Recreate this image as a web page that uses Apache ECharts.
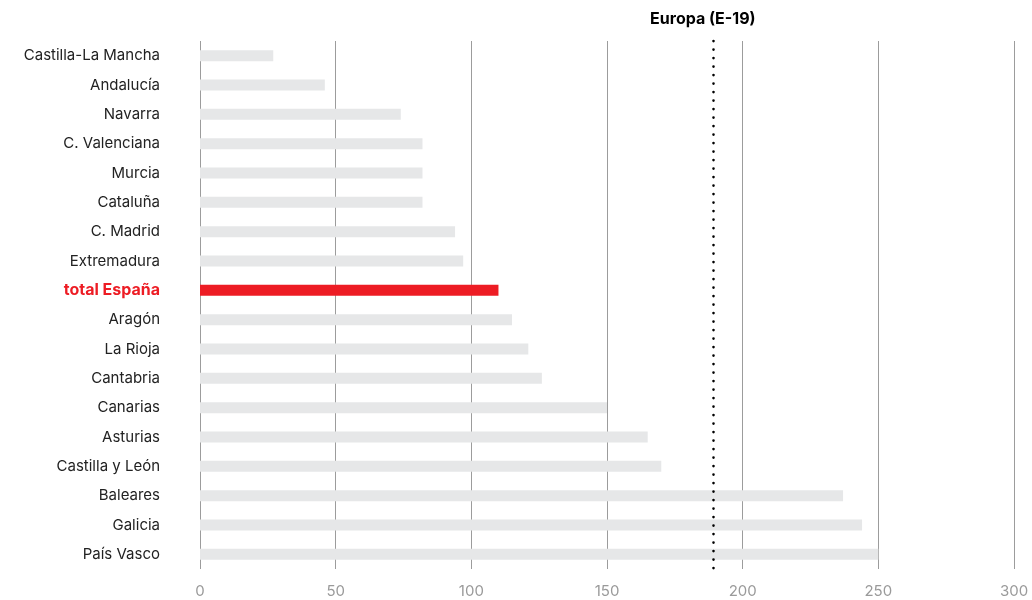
<!DOCTYPE html>
<html>
<head>
<meta charset="utf-8">
<script src="https://cdn.jsdelivr.net/npm/echarts@6/dist/echarts.min.js"></script>
<style>
  html, body { margin: 0; padding: 0; background: #fff; }
  #chart { width: 1032px; height: 600px; }
</style>
</head>
<body>
<div id="chart"></div>
<script>
// Regions, listed top to bottom
const regions = [
  'Castilla-La Mancha', 'Andalucía', 'Navarra', 'C. Valenciana', 'Murcia',
  'Cataluña', 'C. Madrid', 'Extremadura', 'total España', 'Aragón',
  'La Rioja', 'Cantabria', 'Canarias', 'Asturias', 'Castilla y León',
  'Baleares', 'Galicia', 'País Vasco'
];
const values = [27, 46, 74, 82, 82, 82, 94, 97, 110, 115, 121, 126, 150, 165, 170, 237, 244, 250];
const highlightRegion = 'total España';
const europeLabel = 'Europa (E-19)';
const europeValue = 189;
const xTicks = [0, 50, 100, 150, 200, 250, 300];

const FONT = 'Inter, "Liberation Sans", sans-serif';
const GREY_BAR = '#e6e7e8';
const RED = '#ed1c24';

const barData = regions.map((name, i) => ({
  value: values[i],
  itemStyle: { color: name === highlightRegion ? RED : GREY_BAR }
}));

const chart = echarts.init(document.getElementById('chart'), null, { renderer: 'canvas' });
chart.setOption({
  animation: false,
  backgroundColor: '#fff',
  grid: { left: 200, right: 18, top: 41, bottom: 31, containLabel: false },
  xAxis: {
    type: 'value',
    min: xTicks[0],
    max: xTicks[xTicks.length - 1],
    interval: xTicks[1] - xTicks[0],
    axisLine: { show: false },
    axisTick: { show: false },
    splitLine: { show: true, lineStyle: { color: '#9c9c9c', width: 1 } },
    axisLabel: {
      color: '#9a9a9a', fontFamily: FONT, fontSize: 15, margin: 15,
      formatter: v => xTicks.includes(v) ? String(v) : ''
    }
  },
  yAxis: {
    type: 'category',
    data: regions,
    inverse: true,
    axisLine: { show: false },
    axisTick: { show: false },
    splitLine: { show: false },
    axisLabel: {
      margin: 40,
      fontFamily: FONT,
      fontSize: 15,
      color: '#222',
      formatter: v => v === highlightRegion ? '{hl|' + v + '}' : v,
      rich: {
        hl: { color: RED, fontWeight: 'bold', fontFamily: FONT, fontSize: 16 }
      }
    }
  },
  series: [
    {
      // Reference line for the European average, drawn beneath the bars
      type: 'line',
      data: [],
      z: 1,
      silent: true,
      markLine: {
        silent: true,
        symbol: ['none', 'none'],
        lineStyle: { color: '#000', width: 2.6, type: [0.1, 8.4], cap: 'round' },
        label: {
          show: true,
          position: 'start',
          formatter: europeLabel,
          color: '#000',
          fontFamily: FONT,
          fontWeight: 'bold',
          fontSize: 16,
          distance: 14,
          padding: [0, 20, 0, 0]
        },
        data: [{ xAxis: europeValue }]
      }
    },
    {
      type: 'bar',
      data: barData,
      barWidth: 11,
      z: 2,
      silent: true
    }
  ]
});
</script>
</body>
</html>
